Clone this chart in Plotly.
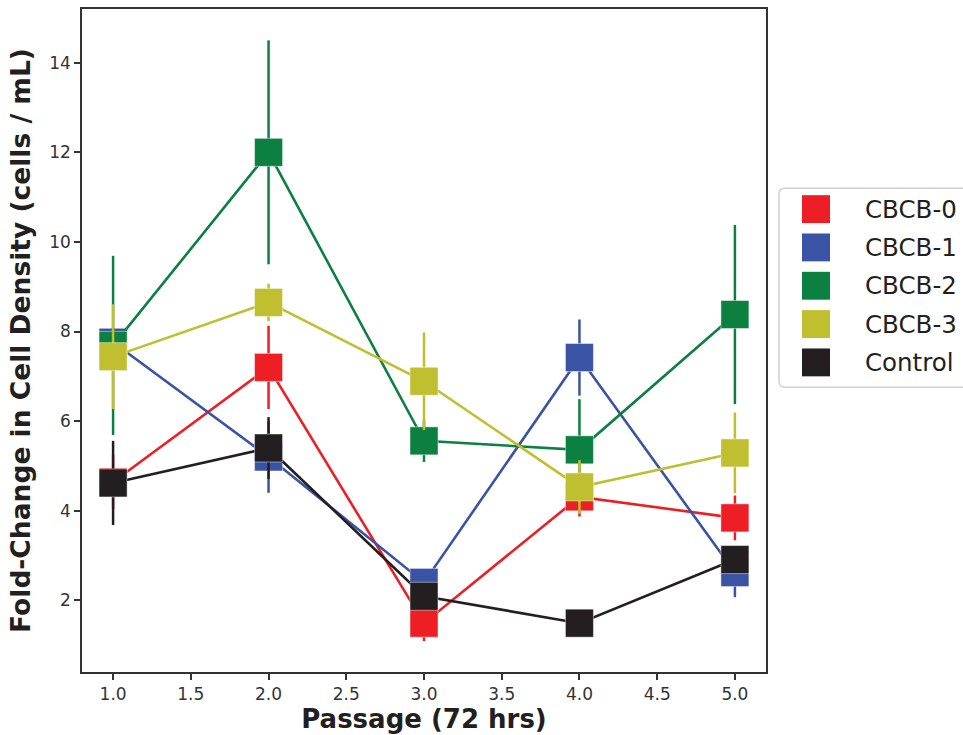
import plotly.graph_objects as go

passage = [1.0, 2.0, 3.0, 4.0, 5.0]

series_names = ["CBCB-0", "CBCB-1", "CBCB-2", "CBCB-3", "Control"]
cbcb0 = [4.64, 7.20, 1.49, 4.31, 3.84]
cbcb0_err = [0.60, 0.93, 0.40, 0.44, 0.50]
cbcb1 = [7.76, 5.20, 2.40, 7.42, 2.62]
cbcb1_err = [0.30, 0.80, 0.25, 0.85, 0.55]
cbcb2 = [7.69, 12.00, 5.56, 5.36, 8.38]
cbcb2_err = [2.00, 2.50, 0.47, 1.13, 2.00]
cbcb3 = [7.44, 8.65, 6.89, 4.53, 5.29]
cbcb3_err = [1.17, 0.42, 1.09, 0.60, 0.90]
control = [4.62, 5.40, 2.09, 1.49, 2.91]
control_err = [0.94, 0.69, 0.20, 0.20, 0.25]

values = [cbcb0, cbcb1, cbcb2, cbcb3, control]
errors = [cbcb0_err, cbcb1_err, cbcb2_err, cbcb3_err, control_err]
colors = ["#ee1e25", "#3a53a4", "#0c8040", "#bfbf2f", "#231f20"]

y_ticks = [2, 4, 6, 8, 10, 12, 14]
x_ticks = [1.0, 1.5, 2.0, 2.5, 3.0, 3.5, 4.0, 4.5, 5.0]

FONT = "DejaVu Sans"
W, H = 963, 735
ML, MR, MT, MB = 82, 197, 7, 62
PW, PH = W - ML - MR, H - MT - MB

fig = go.Figure()
for name, ys, es, col in zip(series_names, values, errors, colors):
    fig.add_trace(go.Scatter(
        x=passage, y=ys, name=name, mode="lines+markers",
        line=dict(color=col, width=2.6),
        marker=dict(symbol="square", size=28, color=col,
                    line=dict(color="rgba(255,255,255,0.45)", width=1)),
        error_y=dict(type="data", array=es, visible=True, color=col,
                     thickness=2.5, width=0),
        showlegend=False,
    ))

def px_to_paper_x(px):
    return (px - ML) / PW

def px_to_paper_y(py):
    return (H - MB - py) / PH

# Legend drawn manually (matplotlib-like, large square handles)
leg_left, leg_top, leg_bottom, leg_right = 779, 187, 387, 990
r = 6
path = (f"M {px_to_paper_x(leg_left + r)},{px_to_paper_y(leg_top)} "
        f"L {px_to_paper_x(leg_right)},{px_to_paper_y(leg_top)} "
        f"L {px_to_paper_x(leg_right)},{px_to_paper_y(leg_bottom)} "
        f"L {px_to_paper_x(leg_left + r)},{px_to_paper_y(leg_bottom)} "
        f"Q {px_to_paper_x(leg_left)},{px_to_paper_y(leg_bottom)} {px_to_paper_x(leg_left)},{px_to_paper_y(leg_bottom - r)} "
        f"L {px_to_paper_x(leg_left)},{px_to_paper_y(leg_top + r)} "
        f"Q {px_to_paper_x(leg_left)},{px_to_paper_y(leg_top)} {px_to_paper_x(leg_left + r)},{px_to_paper_y(leg_top)} Z")
shapes = [dict(type="path", xref="paper", yref="paper", path=path,
               line=dict(color="#d0d0d0", width=1.5), fillcolor="rgba(255,255,255,0.8)",
               layer="above")]
annotations = []
row0, row_step, half = 208, 38.5, 14
for i, (name, col) in enumerate(zip(series_names, colors)):
    cy = row0 + i * row_step
    shapes.append(dict(type="rect", xref="paper", yref="paper",
                       x0=px_to_paper_x(816 - half), x1=px_to_paper_x(816 + half),
                       y0=px_to_paper_y(cy + half), y1=px_to_paper_y(cy - half),
                       fillcolor=col, line=dict(width=0), layer="above"))
    annotations.append(dict(xref="paper", yref="paper", x=px_to_paper_x(863),
                            y=px_to_paper_y(cy), text=name, showarrow=False,
                            xanchor="left", yanchor="middle",
                            font=dict(family=FONT, size=24.5, color="#231f20")))

axis_common = dict(showline=True, mirror=True, linecolor="#333333", linewidth=1.5,
                   ticks="outside", ticklen=6, tickwidth=1.5, tickcolor="#333333",
                   showgrid=False, zeroline=False,
                   tickfont=dict(family=FONT, size=17, color="#333333"))

fig.update_layout(
    width=W, height=H,
    margin=dict(l=ML, r=MR, t=MT, b=MB),
    paper_bgcolor="white", plot_bgcolor="white",
    font=dict(family=FONT),
    shapes=shapes, annotations=annotations,
    xaxis=dict(range=[0.8, 5.2], tickvals=x_ticks,
               ticktext=[f"{v:.1f}" for v in x_ticks],
               title=dict(text="<b>Passage (72 hrs)</b>", standoff=6,
                          font=dict(family=FONT, size=26, color="#231f20")),
               **axis_common),
    yaxis=dict(range=[0.4, 15.2], tickvals=y_ticks,
               title=dict(text="<b>Fold-Change in Cell Density (cells / mL)</b>", standoff=11,
                          font=dict(family=FONT, size=26.5, color="#231f20")),
               **axis_common),
)

fig.write_html("out.html", config={"displayModeBar": False},
               post_script="document.body.style.margin='0';document.body.style.padding='0';")
